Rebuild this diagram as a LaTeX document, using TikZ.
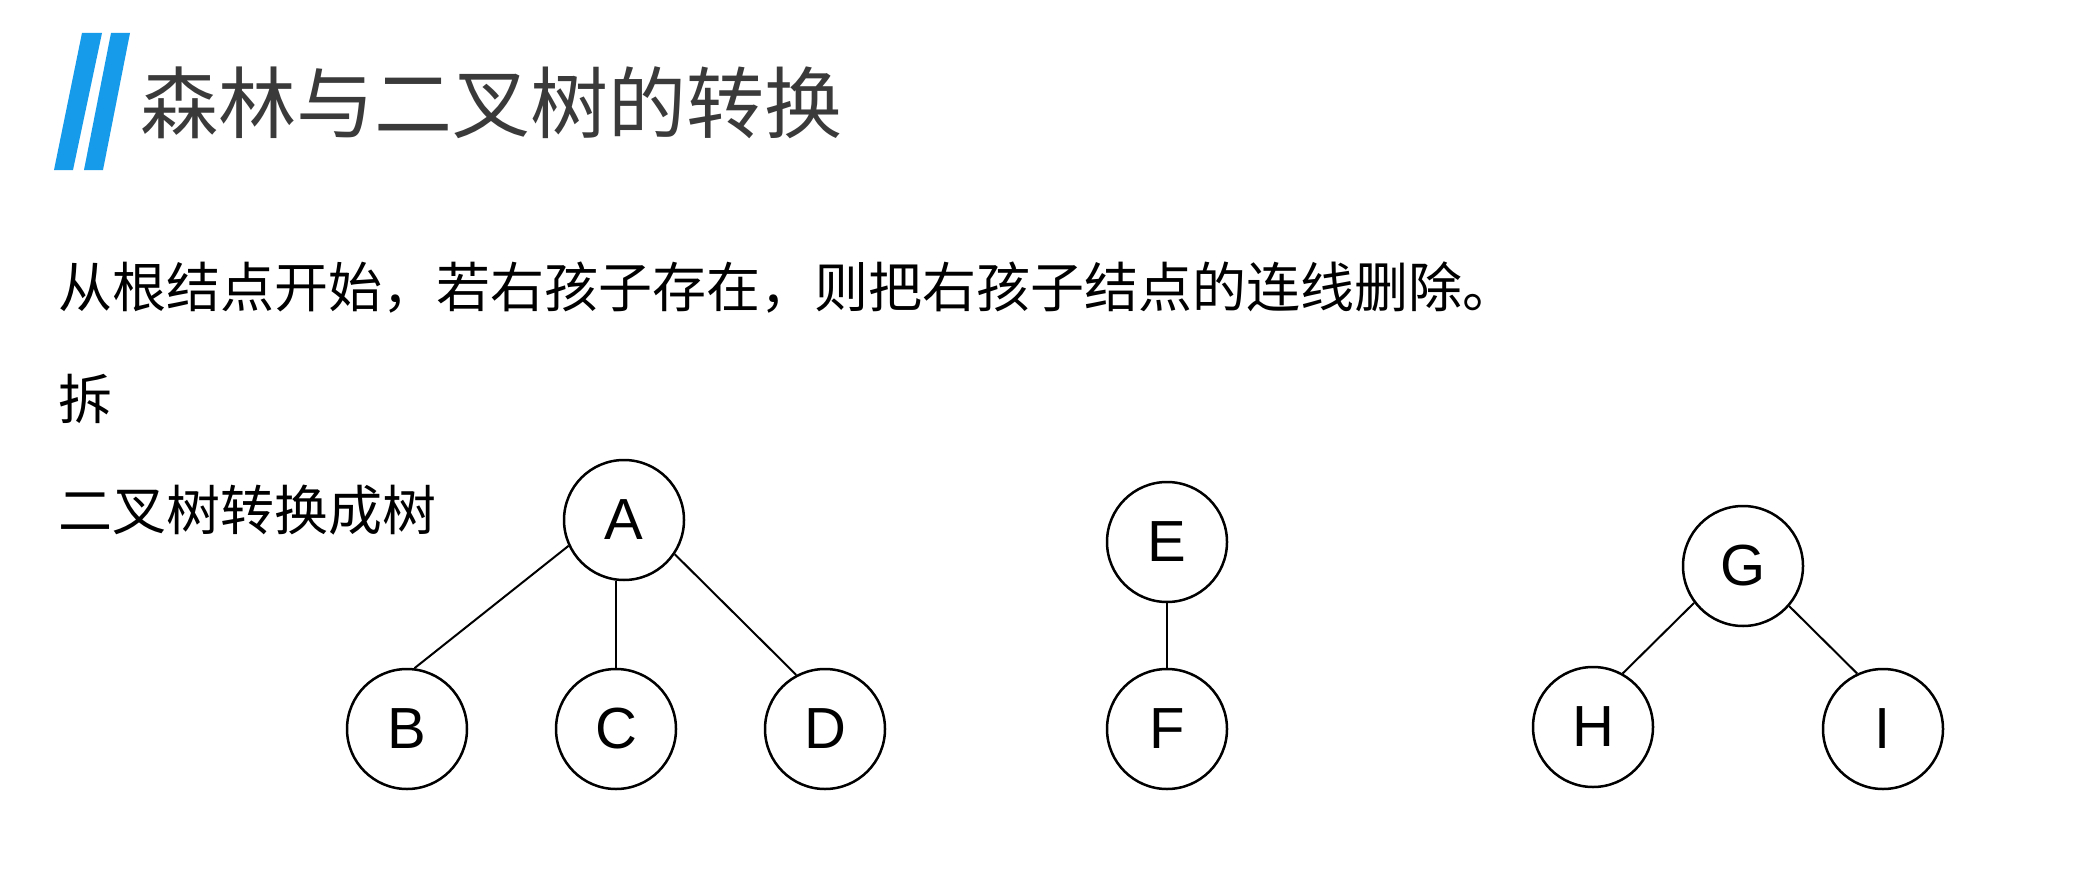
\documentclass[tikz,border=0pt]{standalone}
\usepackage{fontspec}
\setmainfont{Liberation Sans}
\newfontfamily\cjk{Noto Sans CJK SC}
\definecolor{barblue}{RGB}{22,155,235}
\definecolor{titlegray}{RGB}{58,58,58}
\tikzset{
  vertex/.style={circle, draw, line width=2.5pt, minimum size=120pt, inner sep=0pt, font=\fontsize{58}{58}\selectfont},
  link/.style={line width=2pt},
  bodytext/.style={anchor=base west, inner sep=0pt, font=\cjk\fontsize{54}{54}\selectfont}
}

\begin{document}
\begin{tikzpicture}[x=1pt,y=-1pt]
\fill[white] (0,0) rectangle (2094,875);
\useasboundingbox (0,0) rectangle (2094,875);
\fill[barblue] (82,33) -- (102,33) -- (73,170) -- (54,170) -- cycle;
\fill[barblue] (111,33) -- (130,33) -- (103,170) -- (84,170) -- cycle;
\node[anchor=base west, inner sep=0pt, text=titlegray, font=\cjk\fontsize{78}{78}\selectfont] (title) at (140,132) {森林与二叉树的转换};
\node[bodytext] (rule) at (58,307) {从根结点开始，若右孩子存在，则把右孩子结点的连线删除。};
\node[bodytext] (split) at (58,419) {拆};
\node[bodytext] (back) at (58,530) {二叉树转换成树};

\node[vertex] (A) at (624,520) {A};
\node[vertex] (B) at (407,729) {B};
\node[vertex] (C) at (616,729) {C};
\node[vertex] (D) at (825,729) {D};
\node[vertex] (E) at (1167,542) {E};
\node[vertex] (F) at (1167,729) {F};
\node[vertex] (G) at (1743,566) {G};
\node[vertex] (H) at (1593,727) {H};
\node[vertex] (I) at (1883,729) {I};

\draw[link] (A.205) -- (B.83);
\draw[link] (C.north |- A.south) -- (C.north);
\draw[link] (A.-34) -- (D.118);
\draw[link] (E.south) -- (F.north);
\draw[link] (G.217) -- (H.61);
\draw[link] (G.-41) -- (I.115);
\end{tikzpicture}
\end{document}
